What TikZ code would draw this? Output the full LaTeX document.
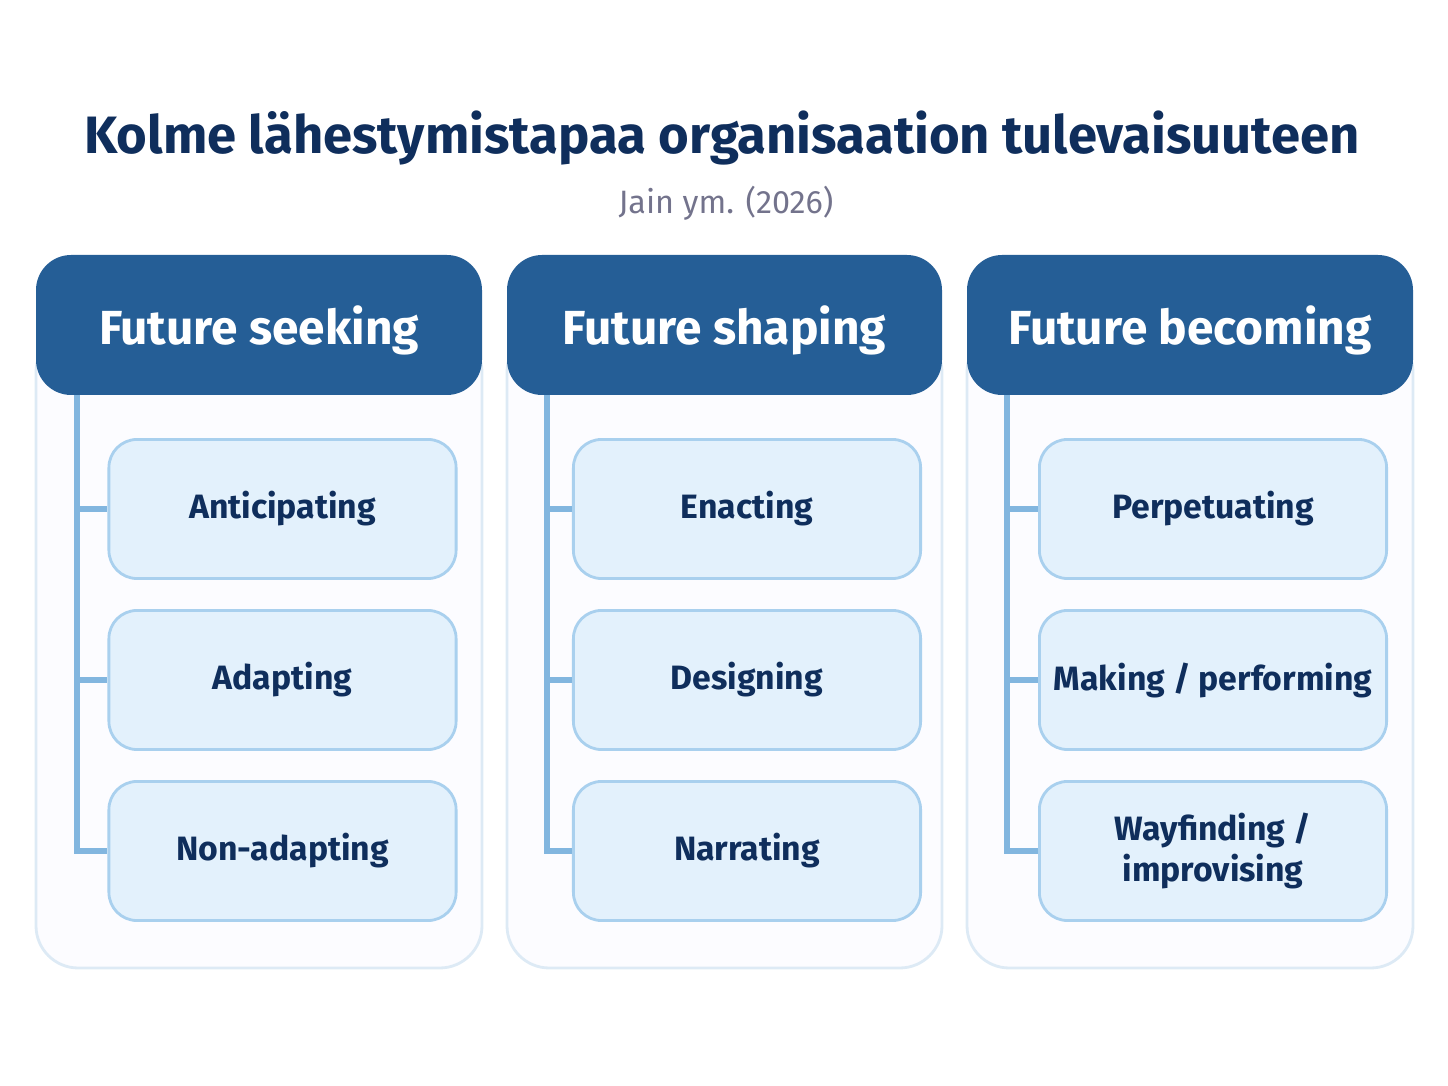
\documentclass[tikz,border=0pt]{standalone}
\usepackage{fontspec}
\setmainfont{Fira Sans}
\usetikzlibrary{positioning}
\definecolor{navy}{HTML}{0F2E5C}
\definecolor{headblue}{HTML}{255E96}
\definecolor{boxfill}{HTML}{E3F1FC}
\definecolor{boxline}{HTML}{A9D0EE}
\definecolor{stem}{HTML}{82B6DF}
\definecolor{panelline}{HTML}{DDEAF5}
\newcommand{\slsh}{/}
\tikzset{
  panel/.style={draw=panelline, fill=blue!1, rounded corners=12pt, line width=0.8pt},
  head/.style={fill=headblue, rounded corners=10pt},
  headtext/.style={text=white, font=\fontsize{13.6}{16}\selectfont\bfseries},
  item/.style={draw=boxline, fill=boxfill, rounded corners=8pt, line width=0.8pt, text=navy,
    font=\fontsize{9.6}{11.5}\selectfont\bfseries, align=center,
    minimum width=3.47cm, minimum height=1.39cm, inner sep=0pt},
  branch/.style={draw=stem, line width=1.6pt}
}
\begin{document}
\begin{tikzpicture}[x=0.01cm,y=-0.01cm]
\useasboundingbox (0,0) rectangle (1448,1086);

\node (TITLE) at (722,138) {\fontsize{14.95}{18}\selectfont\bfseries\color{navy}Kolme lähestymistapaa organisaation tulevaisuuteen};
\node (SUB) at (726,203) {\fontsize{9.2}{11}\selectfont\color{gray!90!blue}Jain ym. (2026)};

% columns
\foreach \l/\r/\s/\cx/\n/\name/\a/\b/\c in {
  36/482/77/282.5/1/Future seeking/Anticipating/Adapting/Non-adapting,
  507/942/547/747/2/Future shaping/Enacting/Designing/Narrating,
  967/1413/1007/1213/3/Future becoming/Perpetuating/Making \slsh{} performing/{Wayfinding \slsh\\ improvising}} {
  \draw[panel] (\l,330) rectangle (\r,968);
  \fill[head] (\l,255) rectangle (\r,395);
  \node[headtext] (HEAD\n) at ({(\l+\r)/2},330) {\name};
  \coordinate (TOP\n) at (\s,395);
  \node[item] (A\n) at (\cx,509) {\a};
  \node[item] (B\n) at (\cx,680) {\b};
  \node[item] (C\n) at (\cx,851) {\c};
  \draw[branch] (TOP\n) |- (C\n.west);
  \draw[branch] (\s,509) -- (A\n.west);
  \draw[branch] (\s,680) -- (B\n.west);
}
\end{tikzpicture}
\end{document}
